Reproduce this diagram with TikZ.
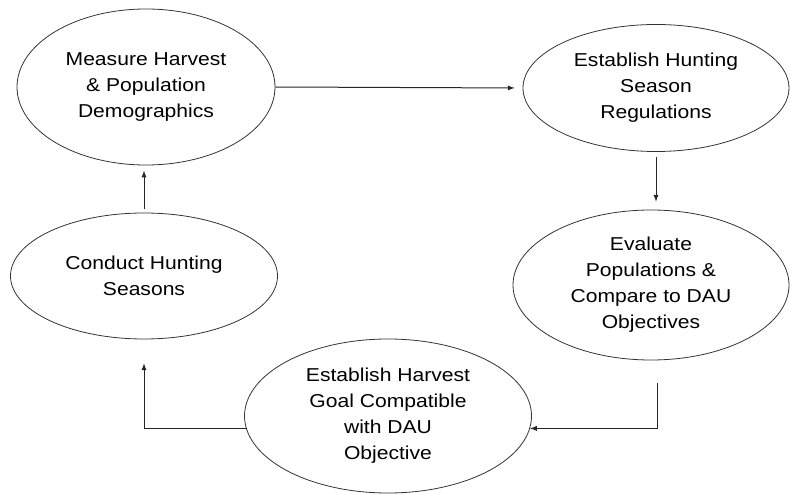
\documentclass[tikz,border=0pt]{standalone}
\usepackage{fontspec}
\setmainfont[FakeStretch=1.13]{Liberation Sans}
\usetikzlibrary{shapes.geometric,arrows}

\begin{document}
\begin{tikzpicture}[x=0.75pt, y=-0.75pt, >=latex,
  stage/.style={ellipse, draw=black!80, line width=0.6pt, inner sep=0pt, align=center,
    font=\fontsize{14}{19.5}\selectfont},
  flow/.style={->, draw=black!85, line width=0.75pt}]
\useasboundingbox (0,0) rectangle (790,495);
  \node[stage, minimum width=193.5pt, minimum height=117pt]  (measure)  at (146,87)  {Measure Harvest\\ \& Population\\ Demographics};
  \node[stage, minimum width=199.5pt, minimum height=95.25pt] (regs)     at (656,88)  {Establish Hunting\\ Season\\ Regulations};
  \node[stage, minimum width=207pt,   minimum height=112.5pt] (evaluate) at (651,285) {Evaluate\\ Populations \&\\ Compare to DAU\\ Objectives};
  \node[stage, minimum width=215.25pt, minimum height=115.5pt] (goal)    at (388,416) {Establish Harvest\\ Goal Compatible\\ with DAU\\ Objective};
  \node[stage, minimum width=200.25pt, minimum height=94.5pt] (conduct)  at (144,276) {Conduct Hunting\\ Seasons};
\path[every edge/.style=flow]
  (measure.east) edge [shorten >=6pt] (regs.west)
  (regs.south) edge [shorten <=4pt, shorten >=6pt] (regs.south |- evaluate.north)
  (conduct.north) edge [shorten <=3pt, shorten >=4pt] (conduct.north |- measure.south)
  ;
\draw[flow] ([xshift=5pt,yshift=-17pt]evaluate.south) |- (goal.-5);
\draw[flow] (goal.185) -| ([yshift=-18pt]conduct.south);
\end{tikzpicture}
\end{document}
